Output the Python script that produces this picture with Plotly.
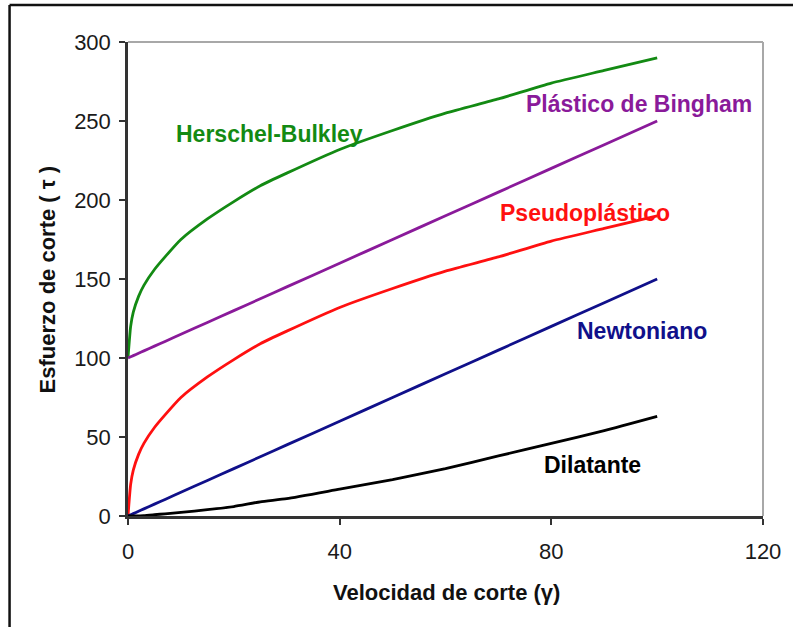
import plotly.graph_objects as go

# Shear rate samples (velocidad de corte)
gamma = [0, 0.5, 1, 2, 3, 5, 7, 10, 15, 20, 25, 30, 40, 50, 60, 70, 80, 90, 100]

# Shear stress for each fluid model (esfuerzo de corte)
newtoniano = [0, 0.75, 1.5, 3, 4.5, 7.5, 10.5, 15, 22.5, 30, 37.5, 45, 60, 75, 90, 105, 120, 135, 150]
bingham = [100, 100.75, 101.5, 103, 104.5, 107.5, 110.5, 115, 122.5, 130, 137.5, 145, 160, 175, 190, 205, 220, 235, 250]
pseudoplastico = [0, 20, 29, 39, 46, 56, 64, 75, 88, 99, 109, 117, 132, 144, 155, 164, 174, 182, 190]
herschel = [100, 120, 129, 139, 146, 156, 164, 175, 188, 199, 209, 217, 232, 244, 255, 264, 274, 282, 290]
dilatante = [0, 0, 0, 0.1, 0.2, 0.8, 1.4, 2.3, 4, 6, 9, 11, 17, 23, 30, 38, 46, 54, 63]

series = [
    ("Herschel-Bulkley", herschel, "#138a13"),
    ("Plástico de Bingham", bingham, "#8a1a9a"),
    ("Pseudoplástico", pseudoplastico, "#ff1010"),
    ("Newtoniano", newtoniano, "#10108a"),
    ("Dilatante", dilatante, "#000000"),
]

# Curve labels: text, x, y
labels = [
    ("Herschel-Bulkley", 26.7, 242, "#138a13"),
    ("Plástico de Bingham", 96.5, 261, "#8a1a9a"),
    ("Pseudoplástico", 86.3, 192, "#ff1010"),
    ("Newtoniano", 97.2, 117, "#10108a"),
    ("Dilatante", 87.8, 32, "#000000"),
]

x_ticks = [0, 40, 80, 120]
y_ticks = [0, 50, 100, 150, 200, 250, 300]

W, H = 793, 627
L, R, T, B = 128, 766, 42, 516


def px(x):
    return (x - L) / (R - L)


def py(y):
    return (B - y) / (B - T)


fig = go.Figure()
for name, vals, color in series:
    fig.add_trace(go.Scatter(x=gamma, y=vals, mode="lines", name=name,
                             line=dict(color=color, width=2.8, shape="spline", smoothing=0.5),
                             showlegend=False))

font = "Liberation Sans, Arial, sans-serif"
for text, x, y, color in labels:
    fig.add_annotation(x=x, y=y, text=f"<b>{text}</b>", showarrow=False,
                       xanchor="center", yanchor="middle",
                       font=dict(family=font, size=23, color=color))

fig.add_annotation(x=px(448), y=py(592), xref="paper", yref="paper",
                   xanchor="center", yanchor="middle",
                   text="<b>Velocidad de corte (γ)</b>", showarrow=False,
                   font=dict(family=font, size=22, color="#111111"))
fig.add_annotation(x=px(47), y=py(280), xref="paper", yref="paper", textangle=-90,
                   xanchor="center", yanchor="middle",
                   text="<b>Esfuerzo de corte ( τ )</b>", showarrow=False,
                   font=dict(family=font, size=22, color="#111111"))

# Frame around the figure (top and left edges)
fig.add_shape(type="line", xref="paper", yref="paper", x0=px(9), x1=px(800), y0=py(5), y1=py(5),
              line=dict(color="#111111", width=2.5))
fig.add_shape(type="line", xref="paper", yref="paper", x0=px(9), x1=px(9), y0=py(5), y1=py(640),
              line=dict(color="#111111", width=2.5))
# Light top/right borders of the plotting area
fig.add_shape(type="line", xref="paper", yref="paper", x0=0, x1=1, y0=1, y1=1,
              line=dict(color="#a8a8a8", width=2))
fig.add_shape(type="line", xref="paper", yref="paper", x0=1, x1=1, y0=0, y1=1,
              line=dict(color="#a8a8a8", width=2))

axis_common = dict(showgrid=False, zeroline=False, showline=True, linecolor="#333333", linewidth=2.5,
                   ticks="outside", ticklen=6, tickwidth=2, tickcolor="#333333",
                   tickfont=dict(family=font, size=22, color="#1a1a1a"))
fig.update_xaxes(range=[0, 120], tickvals=x_ticks, ticktext=[str(v) for v in x_ticks],
                 ticklabelstandoff=8, **axis_common)
fig.update_yaxes(range=[0, 300], tickvals=y_ticks, ticktext=[str(v) for v in y_ticks],
                 ticklabelstandoff=4, **axis_common)

fig.update_layout(width=W, height=H, margin=dict(l=L, r=W - R, t=T, b=H - B),
                  paper_bgcolor="white", plot_bgcolor="white")

fig.write_html("out.html")
